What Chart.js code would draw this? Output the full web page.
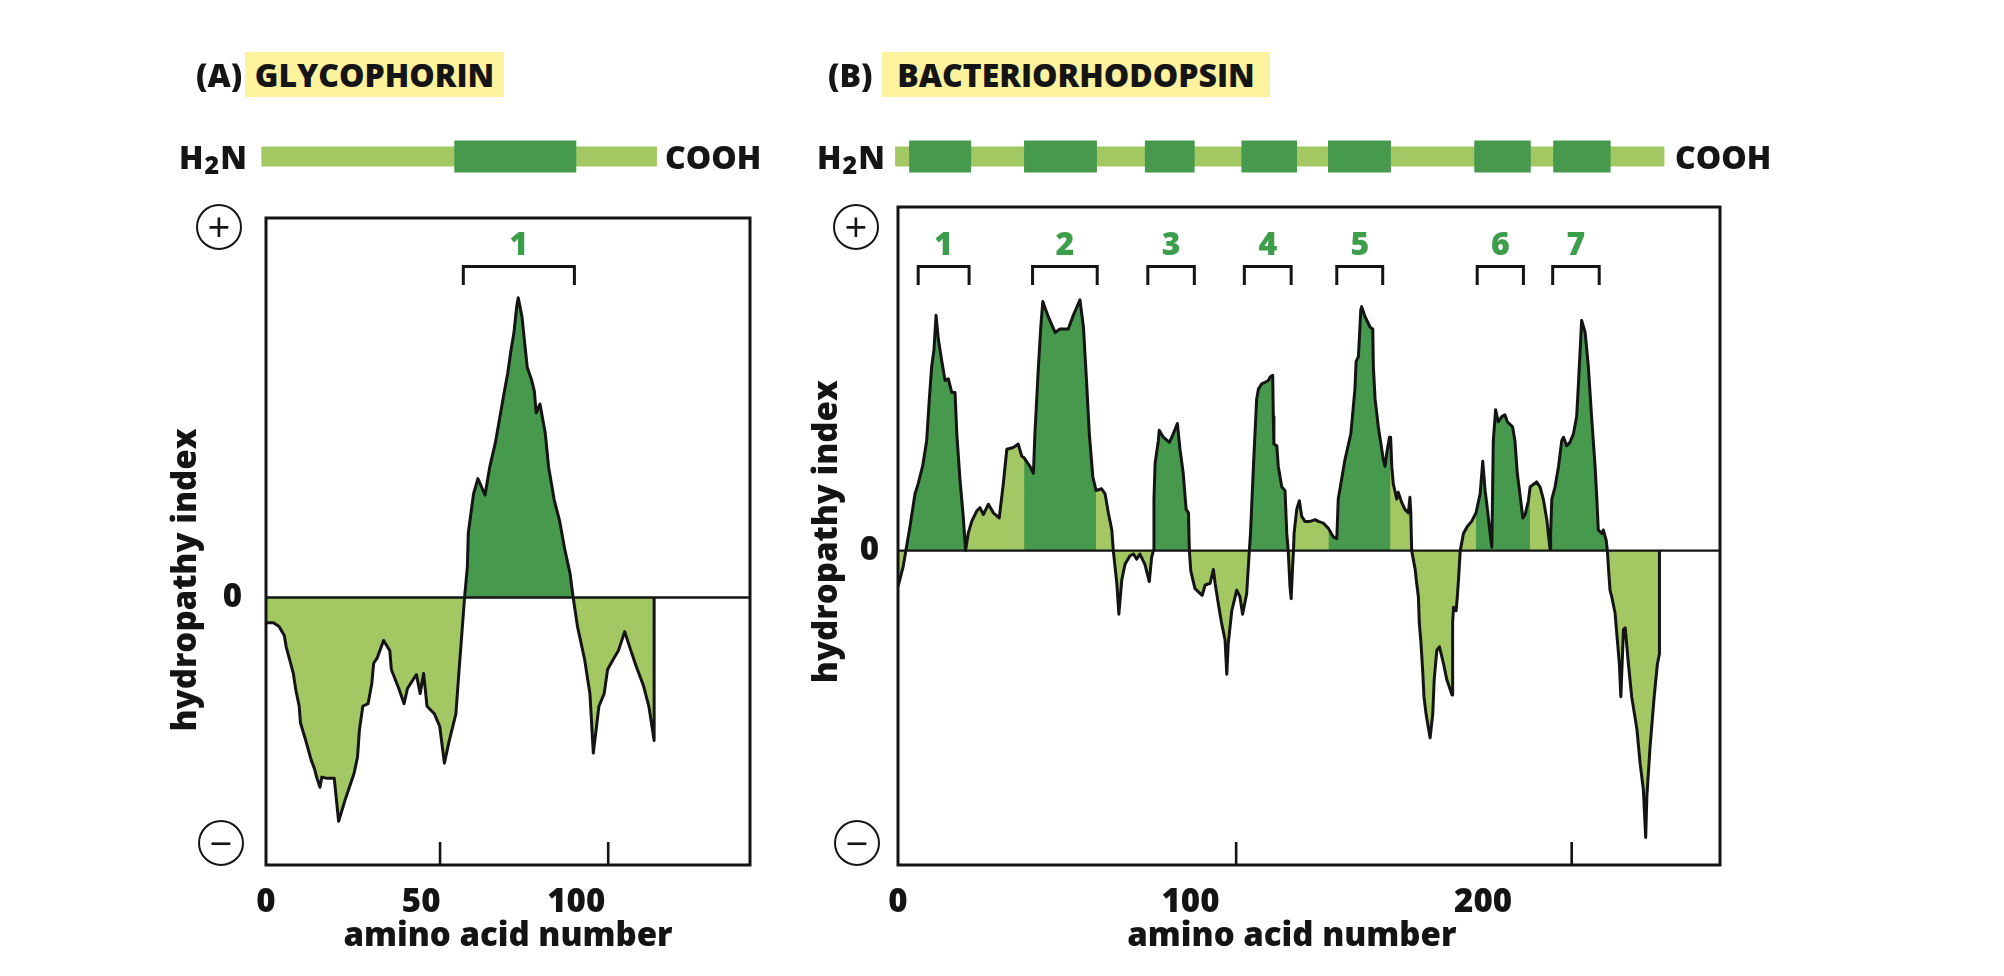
<!DOCTYPE html>
<html>
<head>
<meta charset="utf-8">
<script src="https://cdn.jsdelivr.net/npm/chart.js@4.4.1/dist/chart.umd.min.js"></script>
<style>
  html, body { margin:0; padding:0; background:#ffffff; width:2004px; height:976px; overflow:hidden; font-family:'Open Sans', sans-serif; }
  canvas { position:absolute; top:0; }
  #cA { left:0; }
  #cB { left:790px; }
  .t { position:absolute; height:45px; line-height:45px; font-weight:800; font-size:32px; color:#151515; white-space:nowrap; }
  .hl { position:absolute; height:45px; line-height:45px; font-weight:800; font-size:32px; color:#151515; background:#fdf39e; text-align:center; white-space:nowrap; }
  .sub { font-size:25px; position:relative; top:5px; margin:0 1px; }
  .pm { position:absolute; width:42px; height:42px; border:2.5px solid #151515; border-radius:50%; display:flex; align-items:center; justify-content:center; font-weight:400; font-size:40px; line-height:1; color:#151515; }
</style>
</head>
<body>
<canvas id="cA" width="790" height="976"></canvas>
<canvas id="cB" width="1214" height="976"></canvas>

<div class="t" style="left:196px;top:52px;">(A)</div>
<div class="hl" style="left:245px;top:52px;width:259px;">GLYCOPHORIN</div>
<div class="t" style="left:828px;top:52px;">(B)</div>
<div class="hl" style="left:882px;top:52px;width:388px;">BACTERIORHODOPSIN</div>

<div class="t" style="left:179px;top:134px;">H<span class="sub">2</span>N</div>
<div class="t" style="left:665px;top:134px;">COOH</div>
<div class="t" style="left:817px;top:134px;">H<span class="sub">2</span>N</div>
<div class="t" style="left:1675px;top:134px;">COOH</div>

<div class="pm" style="left:196px;top:204px;">+</div>
<div class="pm" style="left:198px;top:820px;">−</div>
<div class="pm" style="left:833px;top:204px;">+</div>
<div class="pm" style="left:834px;top:820px;">−</div>

<script>
// ---------------- DATA ----------------
// (A) Glycophorin: amino acid number / hydropathy index
const glycoAA = [0,2.4,4.2,5.9,6.5,7.6,8.8,9.6,10.7,11.1,12.8,14.5,15.7,16.3,17.4,18.0,19.7,22.0,23.4,25.5,28.4,29.5,30.1,31.2,32.9,34.1,34.7,35.8,37.9,39.9,40.4,42.8,44.5,45.6,47.4,48.5,49.7,50.8,51.9,54.3,56.0,57.5,58.9,61.2,62.3,62.9,64.0,64.9,65.2,66.9,68.3,70.6,72.1,73.9,76.7,77.9,79.0,79.9,80.8,81.3,82.5,83.3,84.2,85.6,86.5,87.1,88.3,90.0,91.1,92.9,94.6,96.3,98.0,99.0,100.4,102.7,104.4,105.5,107.3,109.0,110.1,111.9,113.6,115.6,117.6,119.4,121.7,123.4,125.1,125.1];
const glycoHyd = [-0.20,-0.20,-0.23,-0.30,-0.39,-0.49,-0.60,-0.73,-0.86,-0.99,-1.13,-1.28,-1.36,-1.42,-1.50,-1.42,-1.43,-1.43,-1.77,-1.60,-1.39,-1.26,-1.05,-0.86,-0.84,-0.68,-0.52,-0.48,-0.34,-0.42,-0.57,-0.72,-0.84,-0.72,-0.65,-0.61,-0.76,-0.60,-0.86,-0.92,-1.02,-1.31,-1.15,-0.92,-0.55,-0.36,0,0.24,0.51,0.82,0.94,0.81,1.03,1.22,1.61,1.77,1.96,2.09,2.30,2.37,2.22,2.03,1.82,1.72,1.63,1.46,1.53,1.30,1.03,0.77,0.61,0.38,0.19,0,-0.23,-0.49,-0.76,-1.23,-0.86,-0.76,-0.57,-0.49,-0.42,-0.27,-0.42,-0.55,-0.70,-0.86,-1.13,0];
const glycoTM = [[64.0, 99.0]];
const glycoBrackets = [[63.6, 99.4]];
const glycoBracketLabels = ['1'];
const glycoSchemBar = [-1.5, 126];
const glycoSchemBoxes = [[60.7, 100]];
const glycoXTicks = [0, 50, 100];
const glycoInnerTicks = [56.1, 110.3];

// (B) Bacteriorhodopsin
const bactAA = [0,1.8,2.7,4.1,5.8,6.9,8.4,9.8,10.7,11.5,12.3,13.0,13.8,14.9,16.1,17.2,18.4,19.5,20.1,21.2,22.3,23.1,24.0,25.2,26.9,28.0,29.2,30.9,32.6,34.6,36.0,37.2,39.4,41.1,42.3,43.1,45.1,46.3,46.8,48.0,48.8,49.5,51.4,53.7,55.4,58.2,59.7,62.2,63.4,64.5,65.4,66.6,67.7,69.6,70.8,71.9,73.1,73.6,74.8,75.5,76.5,77.6,79.3,80.5,81.6,82.7,84.4,85.9,86.7,87.3,87.5,87.9,89.0,89.3,90.7,92.8,94.1,95.5,96.4,97.5,98.5,99.3,99.6,100.1,101.5,103.3,104.0,105.0,106.7,107.8,108.4,109.5,110.6,111.8,112.4,112.9,114.1,115.8,116.9,117.8,119.2,120.1,120.5,121.5,122.6,123.2,124.3,125.5,126.6,127.2,128.1,128.3,128.5,129.5,130.0,131.2,132.3,132.9,133.4,134.0,134.4,134.9,135.2,135.4,136.3,137.2,138.0,139.1,140.9,142.6,143.7,145.4,147.1,148.8,150.0,150.5,152.8,154.8,156.2,156.6,157.4,158.2,158.5,159.7,161.4,162.3,162.5,163.1,164.2,165.9,166.5,167.1,168.0,168.4,168.8,169.3,170.5,171.0,172.2,173.3,174.5,175.0,175.3,175.6,176.8,177.3,177.9,178.2,178.7,179.4,179.8,180.5,181.3,181.9,182.8,183.3,184.2,185.1,186.5,187.6,188.8,189.4,189.6,189.9,190.8,191.2,191.6,192.2,193.3,194.6,196.1,197.6,199.0,199.9,200.7,201.5,202.4,203.0,203.5,204.3,205.2,206.4,207.5,208.3,210.1,210.9,211.7,212.6,213.6,214.4,215.5,216.1,218.3,219.5,220.6,221.8,222.3,222.9,223.1,223.5,224.6,225.8,226.9,227.5,228.6,229.7,230.9,232.0,232.6,233.2,233.7,234.9,236.0,237.1,238.3,238.9,239.4,240.6,241.1,242.1,242.5,242.9,243.4,244.0,245.1,245.9,246.6,247.1,248.0,248.6,249.7,250.8,252.6,253.7,254.8,255.6,256.0,257.1,258.5,259.6,260.3,260.3];
const bactHyd = [-0.21,-0.09,0,0.14,0.33,0.39,0.49,0.64,0.88,1.07,1.17,1.37,1.23,1.11,0.99,1.00,0.92,0.92,0.68,0.41,0.20,0,0.10,0.17,0.23,0.25,0.21,0.27,0.22,0.19,0.39,0.59,0.60,0.62,0.55,0.54,0.49,0.45,0.68,1.07,1.30,1.45,1.36,1.27,1.29,1.29,1.36,1.46,1.30,0.97,0.68,0.43,0.35,0.36,0.33,0.22,0.12,0,-0.19,-0.37,-0.17,-0.08,-0.03,-0.02,-0.05,-0.02,-0.08,-0.18,-0.04,0,0.30,0.51,0.64,0.70,0.66,0.63,0.68,0.74,0.59,0.45,0.24,0.22,0,-0.12,-0.22,-0.25,-0.26,-0.20,-0.19,-0.11,-0.19,-0.31,-0.42,-0.52,-0.72,-0.54,-0.35,-0.23,-0.27,-0.37,-0.25,0,0.10,0.49,0.88,0.94,0.97,0.98,0.99,1.01,1.02,0.78,0.62,0.61,0.49,0.37,0.35,0.10,0,-0.21,-0.28,-0.09,0,0.10,0.24,0.29,0.20,0.17,0.17,0.18,0.17,0.16,0.13,0.08,0.07,0.30,0.53,0.68,0.94,1.10,1.13,1.40,1.42,1.36,1.30,1.29,1.07,0.88,0.72,0.53,0.49,0.57,0.66,0.66,0.49,0.39,0.30,0.34,0.28,0.24,0.22,0.31,0.22,0,-0.11,-0.19,-0.27,-0.42,-0.52,-0.71,-0.85,-0.95,-1.03,-1.09,-0.95,-0.75,-0.58,-0.56,-0.66,-0.75,-0.81,-0.84,-0.42,-0.33,-0.35,-0.27,-0.17,0,0.10,0.14,0.17,0.22,0.33,0.52,0.35,0.24,0.10,0.02,0.64,0.82,0.75,0.78,0.79,0.75,0.72,0.64,0.45,0.33,0.19,0.21,0.29,0.37,0.40,0.37,0.30,0.18,0.10,0.01,0.10,0.30,0.37,0.49,0.64,0.66,0.61,0.63,0.68,0.78,0.97,1.17,1.34,1.27,1.07,0.78,0.49,0.30,0.12,0.10,0.12,0.06,0,-0.11,-0.23,-0.27,-0.36,-0.52,-0.66,-0.85,-0.46,-0.45,-0.66,-0.85,-1.04,-1.24,-1.39,-1.67,-1.43,-1.14,-0.85,-0.66,-0.60,0];
const bactTM = [[2.7,23.1],[43.1,67.7],[87.3,99.6],[120.1,133.4],[147.1,168.4],[197.6,216.1],[223.5,242.5]];
const bactBrackets = [[6.9,24.3],[46.0,68.1],[85.4,101.3],[118.4,134.4],[150.0,165.7],[198.0,213.8],[223.8,239.7]];
const bactBracketLabels = ['1','2','3','4','5','6','7'];
const bactSchemBar = [-1, 262];
const bactSchemBoxes = [[3.8,25],[43.1,68],[84.4,101.4],[117.4,136.4],[147,168.5],[197,216.3],[224,243.6]];
const bactXTicks = [0, 100, 200];
const bactInnerTicks = [115.6, 230.3];

// ---------------- STYLE ----------------
const LIGHT = '#a3c763';
const DARK = '#46994d';
const INK = '#141414';
const NUMGREEN = '#3c9e4a';
Chart.defaults.font.family = "'Open Sans', sans-serif";

function panelPlugin(c) {
  return {
    id: 'panel' + c.key,
    afterDatasetsDraw(chart) {
      const {ctx, chartArea: a, scales: {x, y}} = chart;
      const X = v => x.getPixelForValue(v);
      ctx.save();
      ctx.strokeStyle = INK;
      // zero line
      const y0 = y.getPixelForValue(0);
      ctx.lineWidth = 2.4;
      ctx.beginPath(); ctx.moveTo(a.left, y0); ctx.lineTo(a.right, y0); ctx.stroke();
      // inward tick marks
      ctx.lineWidth = 2.6;
      c.innerTicks.forEach(v => {
        const px = X(v);
        ctx.beginPath(); ctx.moveTo(px, a.bottom); ctx.lineTo(px, a.bottom - 23); ctx.stroke();
      });
      // frame
      ctx.lineWidth = 3;
      ctx.strokeRect(a.left, a.top, a.right - a.left, a.bottom - a.top);
      // brackets and labels
      ctx.lineWidth = 3;
      ctx.font = "800 32px 'Open Sans'";
      ctx.textAlign = 'center';
      ctx.textBaseline = 'middle';
      c.brackets.forEach((b, i) => {
        const l = X(b[0]), r = X(b[1]);
        ctx.beginPath(); ctx.moveTo(l, 285); ctx.lineTo(l, 266.5); ctx.lineTo(r, 266.5); ctx.lineTo(r, 285); ctx.stroke();
        ctx.fillStyle = NUMGREEN;
        ctx.fillText(c.bracketLabels[i], (l + r) / 2, 246);
      });
      // schematic bar above the plot
      const b0 = X(c.schemBar[0]), b1 = X(c.schemBar[1]);
      ctx.fillStyle = LIGHT;
      ctx.fillRect(b0, 146.5, b1 - b0, 20);
      ctx.fillStyle = DARK;
      c.schemBoxes.forEach(bx => {
        const l = X(bx[0]), r = X(bx[1]);
        ctx.fillRect(l, 140.5, r - l, 32);
      });
      ctx.restore();
    }
  };
}

function makeChart(id, c) {
  const all = c.aa.map((v, i) => ({x: v, y: c.hyd[i]}));
  const datasets = [];
  datasets.push({label: 'outline', data: all, borderColor: INK, borderWidth: 3, borderJoinStyle: 'round',
    fill: false, pointRadius: 0, tension: 0, order: 0});
  c.tm.forEach((r, i) => {
    datasets.push({label: 'tm' + i, data: all.filter(p => p.x >= r[0] && p.x <= r[1]),
      borderColor: 'rgba(0,0,0,0)', borderWidth: 1, pointRadius: 0, tension: 0, order: 1,
      fill: {target: 'origin', above: DARK, below: 'rgba(0,0,0,0)'}});
  });
  datasets.push({label: 'base', data: all, borderColor: 'rgba(0,0,0,0)', borderWidth: 1, pointRadius: 0,
    tension: 0, order: 2, backgroundColor: LIGHT, fill: {target: 'origin', above: LIGHT, below: LIGHT}});

  const tickFont = {size: 33, weight: '800'};
  return new Chart(document.getElementById(id), {
    type: 'line',
    data: {datasets},
    options: {
      responsive: false, animation: false, devicePixelRatio: 1,
      layout: {padding: c.pad},
      plugins: {legend: {display: false}, tooltip: {enabled: false}},
      events: [],
      scales: {
        x: {
          type: 'linear', min: 0, max: c.xMax,
          grid: {display: false}, border: {display: false},
          afterBuildTicks: s => { s.ticks = c.xTicks.map(v => ({value: v})); },
          afterFit: s => { s.height = c.xAxisH; },
          ticks: {padding: 10, color: INK, font: tickFont, maxRotation: 0, autoSkip: false},
          title: {display: true, text: c.xTitle, color: INK, font: tickFont, padding: {top: 0, bottom: 20}}
        },
        y: {
          type: 'linear', min: c.yMin, max: c.yMax,
          grid: {display: false}, border: {display: false},
          afterBuildTicks: s => { s.ticks = [{value: 0}]; },
          afterFit: s => { s.width = c.yAxisW; },
          ticks: {padding: c.yTickPad, color: INK, font: tickFont},
          title: {display: true, text: c.yTitle, color: INK, font: tickFont, padding: {top: c.yTitlePad, bottom: 0}}
        }
      }
    },
    plugins: [panelPlugin(c)]
  });
}

makeChart('cA', {
  key: 'A', aa: glycoAA, hyd: glycoHyd, tm: glycoTM,
  brackets: glycoBrackets, bracketLabels: glycoBracketLabels,
  schemBar: glycoSchemBar, schemBoxes: glycoSchemBoxes,
  xTicks: glycoXTicks, innerTicks: glycoInnerTicks,
  xMax: 156, yMin: -2.115, yMax: 3.0,
  pad: {left: 150, right: 40, top: 218, bottom: 0},
  yAxisW: 116, xAxisH: 111, yTickPad: 16, yTitlePad: 17,
  xTitle: 'amino acid number',
  yTitle: 'hydropathy index' + '\u00a0'.repeat(9)
});

makeChart('cB', {
  key: 'B', aa: bactAA, hyd: bactHyd, tm: bactTM,
  brackets: bactBrackets, bracketLabels: bactBracketLabels,
  schemBar: bactSchemBar, schemBoxes: bactSchemBoxes,
  xTicks: bactXTicks, innerTicks: bactInnerTicks,
  xMax: 281, yMin: -1.83, yMax: 2.0,
  pad: {left: 0, right: 284, top: 207, bottom: 0},
  yAxisW: 108, xAxisH: 111, yTickPad: 11, yTitlePad: 18,
  xTitle: 'amino acid number' + '\u00a0'.repeat(4),
  yTitle: '\u00a0' + 'hydropathy index'
});
</script>
</body>
</html>
